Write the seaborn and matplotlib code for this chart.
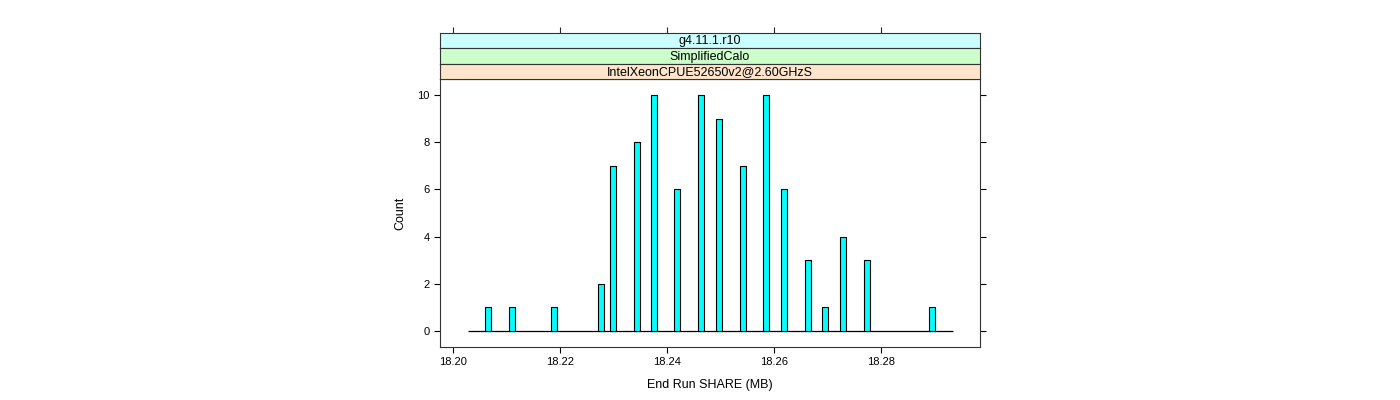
import matplotlib
matplotlib.use("Agg")
import matplotlib.pyplot as plt
import seaborn as sns
import pandas as pd

# End Run SHARE (MB) values and their counts
share_mb = [18.2065, 18.2110, 18.2188, 18.2276, 18.2298, 18.2343, 18.2376,
            18.2419, 18.2464, 18.2497, 18.2541, 18.2585, 18.2619, 18.2663,
            18.2696, 18.2729, 18.2774, 18.2895]
counts = [1, 1, 1, 2, 7, 8, 10, 6, 10, 9, 7, 10, 6, 3, 1, 4, 3, 1]

# span of the histogram breaks (the zero-count baseline)
hist_range = [18.2027, 18.2934]

x_ticks = [18.20, 18.22, 18.24, 18.26, 18.28]
x_tick_labels = ["18.20", "18.22", "18.24", "18.26", "18.28"]
y_ticks = [0, 2, 4, 6, 8, 10]

strip_labels = ["g4.11.1.r10", "SimplifiedCalo", "IntelXeonCPUE52650v2@2.60GHzS"]
strip_colors = ["#ccffff", "#ccffcc", "#ffe5cc"]

sns.set_style("white")
plt.rcParams["font.family"] = ["Liberation Sans", "DejaVu Sans"]
plt.rcParams["text.color"] = "black"
plt.rcParams["axes.labelcolor"] = "black"

df = pd.DataFrame({"share": share_mb, "count": counts})

fig = plt.figure(figsize=(14, 4), dpi=100)
ax = fig.add_axes([0.3143, 0.1325, 0.3857, 0.67])

ax.hlines(0, hist_range[0], hist_range[1], color="black", lw=0.9, zorder=1)
sns.barplot(data=df, x="share", y="count", native_scale=True, width=0.51,
            color="#00ffff", saturation=1, edgecolor="black", linewidth=0.8,
            ax=ax, zorder=2)

ax.set_xlim(18.1975, 18.2985)
ax.set_ylim(-0.68, 10.68)
ax.set_xticks(x_ticks)
ax.set_xticklabels(x_tick_labels)
ax.set_yticks(y_ticks)
ax.tick_params(axis="both", which="both", direction="out", length=4.5, width=0.8,
               labelsize=8, colors="black", pad=3)
ax.tick_params(axis="y", right=True, left=True, labelright=False)
ax.tick_params(axis="x", bottom=True, top=False)
ax.set_xlabel("End Run SHARE (MB)", fontsize=9, labelpad=8)
ax.set_ylabel("Count", fontsize=9, labelpad=8)
for s in ax.spines.values():
    s.set_color("#333333")
    s.set_linewidth(0.8)

# lattice-style strips above the panel
strip_h = 0.0383
for i, (lab, col) in enumerate(zip(strip_labels, strip_colors)):
    bottom = 0.8025 + (len(strip_labels) - 1 - i) * strip_h
    sax = fig.add_axes([0.3143, bottom, 0.3857, strip_h])
    sax.set_facecolor(col)
    sax.set_xlim(ax.get_xlim())
    sax.set_yticks([])
    if i == 0:
        sax.set_xticks(x_ticks)
        sax.tick_params(axis="x", bottom=False, top=True, labelbottom=False,
                        labeltop=False, direction="out", length=4.5, width=0.8)
    else:
        sax.set_xticks([])
    sax.text(0.5, 0.45, lab, transform=sax.transAxes, ha="center", va="center",
             fontsize=9)
    for s in sax.spines.values():
        s.set_color("#333333")
        s.set_linewidth(0.8)

fig.savefig("out.png", dpi=100)
